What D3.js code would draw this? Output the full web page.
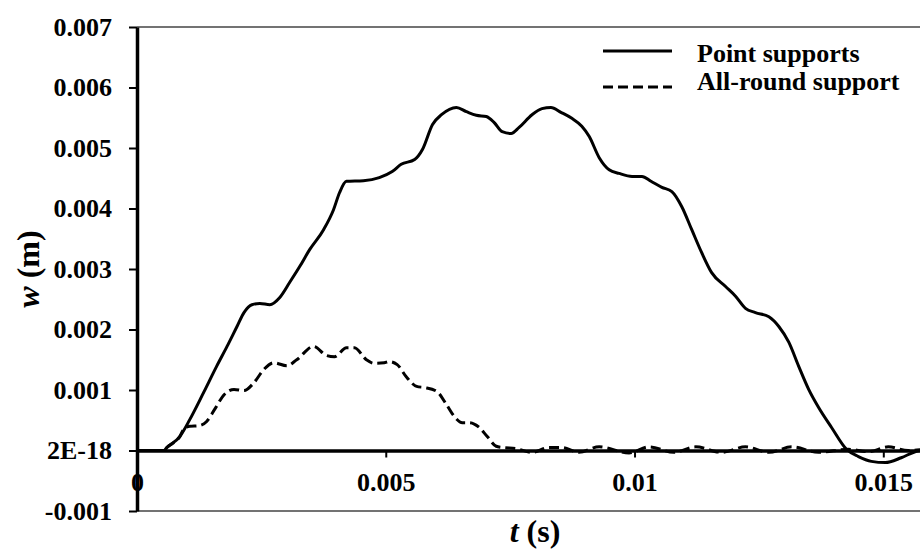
<!DOCTYPE html>
<html>
<head>
<meta charset="utf-8">
<script src="https://cdn.jsdelivr.net/npm/d3@7/dist/d3.min.js"></script>
<style>
  body { margin: 0; background: #fff; }
  svg text { font-family: "Liberation Serif", "Times New Roman", serif; font-weight: bold; fill: #000; }
</style>
</head>
<body>
<div id="chart"></div>
<script>
// time (s) and deflection (m)
const tPoint = [0, 0.00054, 0.0006, 0.00086, 0.00106, 0.00134, 0.0016, 0.00181, 0.00201, 0.00215,
  0.00231, 0.00247, 0.00267, 0.00287, 0.00307, 0.00327, 0.00347, 0.00375, 0.00395, 0.00407,
  0.00421, 0.00455, 0.00487, 0.00513, 0.00531, 0.00558, 0.00574, 0.00594, 0.00612, 0.00642,
  0.00662, 0.00682, 0.00702, 0.00718, 0.00734, 0.00752, 0.00768, 0.00794, 0.00814, 0.00832,
  0.00852, 0.00874, 0.00894, 0.00909, 0.00929, 0.00949, 0.00969, 0.00995, 0.01015, 0.01033,
  0.01055, 0.01075, 0.01095, 0.01115, 0.01135, 0.01155, 0.01183, 0.01203, 0.01223, 0.01243,
  0.0127, 0.0129, 0.0131, 0.0133, 0.0135, 0.0137, 0.01396, 0.01426, 0.0145, 0.01476,
  0.01504, 0.01536, 0.01564, 0.0158];
const wPoint = [0, 0, 0.00005, 0.00023, 0.00051, 0.00096, 0.00139, 0.00172, 0.00205, 0.00228,
  0.00241, 0.00243, 0.00241, 0.00253, 0.00278, 0.00304, 0.00332, 0.00365, 0.00398, 0.00426,
  0.00445, 0.00446, 0.00451, 0.00461, 0.00473, 0.00481, 0.00498, 0.00539, 0.00555, 0.00567,
  0.0056, 0.00554, 0.00552, 0.00542, 0.00527, 0.00524, 0.00534, 0.00555, 0.00565, 0.00567,
  0.00559, 0.00549, 0.00536, 0.00519, 0.00484, 0.00464, 0.00458, 0.00453, 0.00453, 0.00445,
  0.00435, 0.00428, 0.00403, 0.00365, 0.00327, 0.00294, 0.00271, 0.00255, 0.00235, 0.00228,
  0.00221, 0.00205, 0.00179, 0.00139, 0.00101, 0.00071, 0.00038, 0.00002, -0.0001, -0.00018,
  -0.0002, -0.00012, -0.00002, 0.00001];

const tAll = [0, 0.0002, 0.00054, 0.0006, 0.00086, 0.00094, 0.00106, 0.00124, 0.0014, 0.00156,
  0.00176, 0.00195, 0.00215, 0.00235, 0.00255, 0.00275, 0.00301, 0.00321, 0.00355, 0.00381,
  0.00397, 0.00421, 0.00437, 0.00461, 0.00477, 0.00497, 0.00507, 0.00523, 0.00542, 0.00562,
  0.00578, 0.00602, 0.00622, 0.00638, 0.00654, 0.00668, 0.00688, 0.00704, 0.00722, 0.00734,
  0.00762, 0.00794, 0.00828, 0.00854, 0.00888, 0.00929, 0.00989, 0.01029, 0.01079, 0.01123,
  0.01175, 0.01223, 0.0127, 0.01316, 0.0137, 0.0143, 0.0147, 0.0151, 0.0155, 0.0158];
const wAll = [0, 0, 0, 0.00005, 0.00023, 0.00035, 0.0004, 0.00041, 0.00048, 0.00068,
  0.00093, 0.00101, 0.00099, 0.00112, 0.00134, 0.00145, 0.0014, 0.0015, 0.00172, 0.00157,
  0.00155, 0.0017, 0.0017, 0.0015, 0.00144, 0.00145, 0.00147, 0.00142, 0.00121, 0.00106,
  0.00104, 0.00098, 0.00076, 0.00056, 0.00046, 0.00046, 0.00038, 0.00023, 0.00007, 0.00005,
  0.00003, -0.00003, 0.00005, 0.00005, -0.00003, 0.00006, -0.00004, 0.00006, -0.00003, 0.00006,
  -0.00003, 0.00006, -0.00003, 0.00006, -0.00003, 0.00002, -0.00002, 0.00006, 0, 0.00002];

const seriesNames = ["Point supports", "All-round support"];
const xTicks = [0, 0.005, 0.01, 0.015];
const xTickLabels = ["0", "0.005", "0.01", "0.015"];
const yTicks = [-0.001, 0, 0.001, 0.002, 0.003, 0.004, 0.005, 0.006, 0.007];
const yTickLabels = ["-0.001", "2E-18", "0.001", "0.002", "0.003", "0.004", "0.005", "0.006", "0.007"];

const svg = d3.select("#chart").append("svg").attr("width", 920).attr("height", 556);
const margin = { top: 27, left: 137, bottom: 45 };
const height = 556 - margin.top - margin.bottom;

const x = d3.scaleLinear().domain([0, 0.0158]).range([margin.left, margin.left + 0.0158 / 0.015 * 746.3]);
const y = d3.scaleLinear().domain([-0.001, 0.007]).range([margin.top + height, margin.top]);

// thin frame lines at top and bottom of the plot area
svg.append("line")
    .attr("x1", margin.left).attr("x2", 920)
    .attr("y1", y(0.007)).attr("y2", y(0.007))
    .attr("stroke", "#444").attr("stroke-width", 1.5);
svg.append("line")
    .attr("x1", margin.left).attr("x2", 920)
    .attr("y1", y(-0.001)).attr("y2", y(-0.001))
    .attr("stroke", "#444").attr("stroke-width", 1.5);

// x axis sits on w = 0
const xAxis = svg.append("g")
    .attr("transform", `translate(0,${y(0)})`)
    .call(d3.axisBottom(x).tickValues(xTicks).tickFormat((d, i) => xTickLabels[i]).tickSize(7).tickSizeOuter(0));
xAxis.select(".domain").attr("stroke", "#000").attr("stroke-width", 3.5);
xAxis.selectAll(".tick line").attr("stroke-width", 2);
xAxis.selectAll(".tick text").attr("y", 40).attr("dy", 0).style("font-size", "26px");

const line = d3.line().x(d => x(d[0])).y(d => y(d[1])).curve(d3.curveMonotoneX);

svg.append("path")
    .datum(tAll.map((t, i) => [t, wAll[i]]))
    .attr("d", line)
    .attr("fill", "none").attr("stroke", "#000").attr("stroke-width", 3)
    .attr("stroke-dasharray", "10,5");

svg.append("path")
    .datum(tPoint.map((t, i) => [t, wPoint[i]]))
    .attr("d", line)
    .attr("fill", "none").attr("stroke", "#000").attr("stroke-width", 3);

const yAxis = svg.append("g")
    .attr("transform", `translate(${margin.left},0)`)
    .call(d3.axisLeft(y).tickValues(yTicks).tickFormat((d, i) => yTickLabels[i]).tickSize(8).tickSizeOuter(0).tickPadding(17));
yAxis.select(".domain").attr("stroke", "#000").attr("stroke-width", 3.5);
yAxis.selectAll(".tick line").attr("stroke-width", 2);
yAxis.selectAll(".tick text").style("font-size", "26px");

// axis titles
const yTitle = svg.append("text")
    .attr("transform", `translate(39,${margin.top + height / 2}) rotate(-90)`)
    .attr("text-anchor", "middle")
    .style("font-size", "32px");
yTitle.append("tspan").style("font-style", "italic").text("w");
yTitle.append("tspan").text(" (m)");

const xTitle = svg.append("text")
    .attr("x", 535).attr("y", 542)
    .attr("text-anchor", "middle")
    .style("font-size", "32px");
xTitle.append("tspan").style("font-style", "italic").text("t");
xTitle.append("tspan").text(" (s)");

// legend
const legend = svg.append("g");
const legendRows = [
    { name: seriesNames[0], dash: null, ly: 51, ty: 62 },
    { name: seriesNames[1], dash: "10,5", ly: 87, ty: 90 }
];
legendRows.forEach(r => {
    legend.append("line")
        .attr("x1", 603).attr("x2", 672).attr("y1", r.ly).attr("y2", r.ly)
        .attr("stroke", "#000").attr("stroke-width", 3)
        .attr("stroke-dasharray", r.dash);
    legend.append("text")
        .attr("x", 697).attr("y", r.ty)
        .style("font-size", "26px")
        .text(r.name);
});
</script>
</body>
</html>
